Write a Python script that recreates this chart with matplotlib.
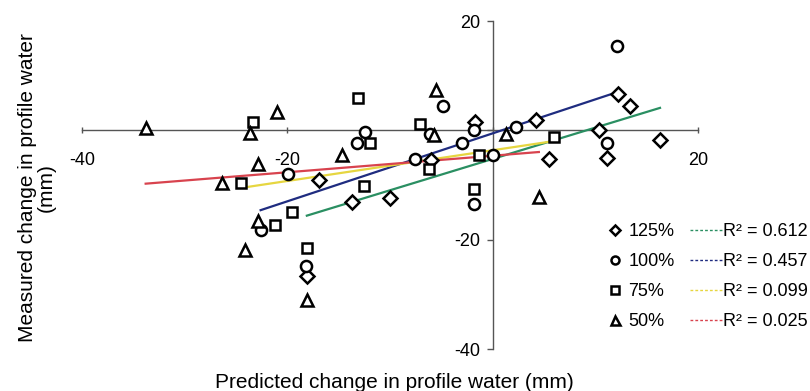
import numpy as np
import matplotlib
matplotlib.use("Agg")
import matplotlib.pyplot as plt
from matplotlib.lines import Line2D

plt.rcParams['font.family'] = ['Liberation Sans', 'DejaVu Sans']

# ---- data (predicted x, measured y), mm ----
x125 = [-18.1, -16.9, -13.7, -10.0, -6.0, -1.7, 4.2, 5.5, 10.4, 11.1, 12.2, 13.4, 16.3]
y125 = [-26.7, -9.0, -13.1, -12.4, -5.4, 1.5, 1.8, -5.2, 0.0, -5.1, 6.7, 4.4, -1.7]

x100 = [-22.6, -19.9, -18.2, -13.2, -12.4, -7.6, -6.1, -4.8, -3.0, -1.8, -1.8, 0.0, 2.3, 11.1, 12.1]
y100 = [-18.3, -7.9, -24.9, -2.4, -0.3, -5.2, -0.6, 4.4, -2.3, 0.0, -13.4, -4.6, 0.7, -2.4, 15.5]

x75 = [-24.5, -23.3, -21.2, -19.5, -18.1, -13.1, -12.5, -11.9, -7.1, -6.2, -1.8, -1.3, 6.0]
y75 = [-9.6, 1.5, -17.4, -15.0, -21.5, 6.0, -10.1, -2.3, 1.2, -7.0, -10.7, -4.6, -1.3]

x50 = [-33.8, -26.4, -24.1, -23.6, -22.9, -22.9, -21.0, -18.1, -14.7, -5.5, -5.7, 1.3, 4.5]
y50 = [0.5, -9.6, -21.9, -0.5, -6.1, -16.5, 3.4, -31.0, -4.6, 7.4, -0.9, -0.6, -12.2]

series_labels = ['125%', '100%', '75%', '50%']
r2_labels = ['R² = 0.612', 'R² = 0.457', 'R² = 0.099', 'R² = 0.025']
ticks = [-40, -20, 0, 20]
tick_labels = ['-40', '-20', '', '20']

markers = ['D', 'o', 's', '^']
msizes = [7, 8, 7.5, 9]
line_colors = ['#2a8f62', '#1f2c80', '#e6d640', '#d8434e']

fig = plt.figure(figsize=(8.1, 3.91), dpi=100)
ax = fig.add_axes([82/810, 42/391, 616/810, 328/391])
ax.set_xlim(-40, 20)
ax.set_ylim(-40, 20)

data = [(x125, y125), (x100, y100), (x75, y75), (x50, y50)]
for (xs, ys), m, ms, c in zip(data, markers, msizes, line_colors):
    xs = np.asarray(xs); ys = np.asarray(ys)
    k, b = np.polyfit(xs, ys, 1)
    xx = np.array([xs.min(), xs.max()])
    ax.plot(xx, k*xx + b, color=c, lw=1.6, zorder=2, clip_on=False)
    ax.plot(xs, ys, linestyle='none', marker=m, ms=ms, mfc='white', mec='black',
            mew=1.8, zorder=3, clip_on=False)

for s in ['top', 'right']:
    ax.spines[s].set_visible(False)
for s in ['left', 'bottom']:
    ax.spines[s].set_position(('data', 0))
    ax.spines[s].set_color('#555555')
    ax.spines[s].set_linewidth(1.0)
    ax.spines[s].set_zorder(1)

ax.set_xticks(ticks)
ax.set_xticklabels(tick_labels)
ax.set_yticks(ticks)
ax.set_yticklabels(tick_labels)
ax.tick_params(axis='x', direction='inout', length=5, width=1, color='#555555',
               labelsize=13, pad=13)
ax.tick_params(axis='y', direction='out', length=4, width=1, color='#555555',
               labelsize=13, pad=5)
ax.patch.set_alpha(0)

fig.text(394/810, 9/391, 'Predicted change in profile water (mm)', ha='center',
         va='center', fontsize=15)
fig.text(37/810, 203/391, 'Measured change in profile water\n(mm)', ha='center',
         va='center', rotation=90, fontsize=15, linespacing=1.0)

mark_handles = [Line2D([], [], ls='none', marker=m, ms=ms*0.72, mfc='white', mec='black', mew=1.8)
                for m, ms in zip(markers, msizes)]
line_handles = [Line2D([], [], color=c, lw=1.0, ls=(0, (2, 1.5))) for c in line_colors]

yc = (391 - 277) / 391
leg1 = fig.legend(mark_handles, series_labels, loc='center left',
                  bbox_to_anchor=(606/810, yc), frameon=False, fontsize=13,
                  handlelength=1.0, handletextpad=0.25, labelspacing=0.72,
                  borderpad=0, borderaxespad=0)
leg2 = fig.legend(line_handles, r2_labels, loc='center left',
                  bbox_to_anchor=(690/810, yc), frameon=False, fontsize=13,
                  handlelength=1.8, handletextpad=0.05, labelspacing=0.72,
                  borderpad=0, borderaxespad=0)

fig.savefig('out.png', dpi=100)
